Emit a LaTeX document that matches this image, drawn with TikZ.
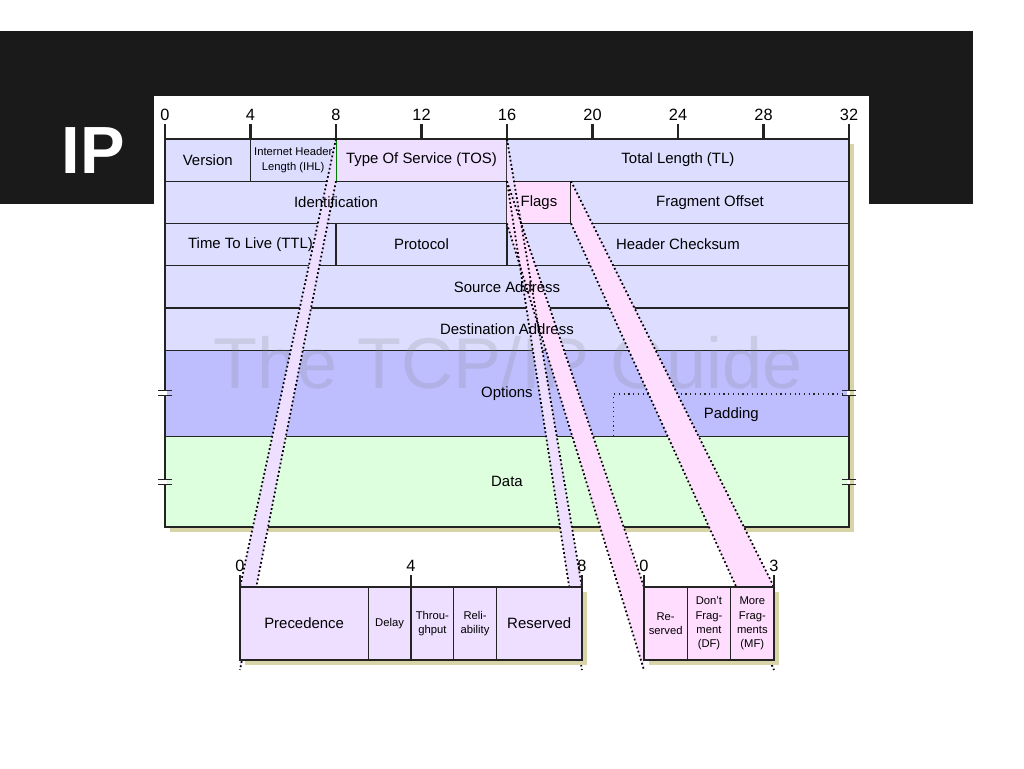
\documentclass[tikz,border=0pt]{standalone}
\usepackage{fontspec}
\setmainfont{Liberation Sans}
\usetikzlibrary{positioning, calc, fit}
\definecolor{slidebar}{RGB}{26,26,26}
\definecolor{hdrfill}{RGB}{221,221,255}
\definecolor{tosfill}{RGB}{238,222,255}
\definecolor{flgfill}{RGB}{255,221,255}
\definecolor{optfill}{RGB}{190,190,255}
\definecolor{datfill}{RGB}{222,255,222}
\definecolor{shadecol}{RGB}{216,212,168}
\definecolor{linecol}{RGB}{35,35,35}
\pgfdeclarelayer{cells}
\pgfdeclarelayer{bands}
\pgfdeclarelayer{boxes}
\pgfsetlayers{cells,bands,boxes,main}
\tikzset{
  cell/.style     = {inner sep=0pt, outer sep=0pt, align=center, minimum height=0.845cm,
                     font=\fontsize{8.5}{10}\selectfont},
  bits/.style     = {minimum width=#1*0.4275cm},
  tbit/.style     = {minimum width=#1*0.855cm, minimum height=1.46cm},
  fbit/.style     = {minimum width=#1*0.8667cm, minimum height=1.46cm},
  small/.style    = {font=\fontsize{6.4}{8.2}\selectfont},
  cellline/.style = {draw=linecol, line width=0.7pt},
  outer/.style    = {draw=linecol, line width=1.2pt},
  tick/.style     = {draw=linecol, line width=1.2pt},
  num/.style      = {font=\fontsize{9.3}{10}\selectfont, inner sep=0pt},
  band/.style     = {draw=black, dash pattern=on 1pt off 1.4pt, line width=1pt},
}
\begin{document}
\begin{tikzpicture}[x=0.02cm, y=-0.02cm]
  \useasboundingbox (0,0) rectangle (1024,768);
  \begin{pgfonlayer}{cells}
    \fill[white] (0,0) rectangle (1024,768);
    \fill[slidebar] (0,31) rectangle (973,204);
    \fill[white] (154,96) rectangle (869,700);
  \end{pgfonlayer}
  \node[font=\fontsize{38}{40}\selectfont\bfseries, text=white] (ip) at (93,151) {IP};

  % header fields
  \node[cell, bits=4, anchor=north west] (ver) at (165,139) {Version};
  \node[cell, small, bits=4, right=0pt of ver] (ihl) {Internet Header\\Length (IHL)};
  \node[cell, bits=8, right=0pt of ihl] (tos) {Type Of Service (TOS)};
  \node[cell, bits=16, right=0pt of tos] (tl) {Total Length (TL)};
  \node[cell, bits=16, anchor=north west] (ident) at (ver.south west) {Identification};
  \node[cell, bits=3, right=0pt of ident] (flags) {Flags};
  \node[cell, bits=13, right=0pt of flags] (fragoff) {Fragment Offset};
  \node[cell, bits=8, anchor=north west] (ttl) at (ident.south west) {Time To Live (TTL)};
  \node[cell, bits=8, right=0pt of ttl] (proto) {Protocol};
  \node[cell, bits=16, right=0pt of proto] (hcs) {Header Checksum};
  \node[cell, bits=32, anchor=north west] (src) at (ttl.south west) {Source Address};
  \node[cell, bits=32, anchor=north west] (dst) at (src.south west) {Destination Address};
  \node[cell, bits=32, minimum height=1.72cm, anchor=north west] (opt) at (dst.south west) {Options};
  \node[cell, bits=32, minimum height=1.82cm, anchor=north west] (data) at (opt.south west) {Data};
  \node[cell, bits=11, anchor=south east] (pad) at (opt.south east) {Padding};

  \begin{pgfonlayer}{cells}
    \fill[shadecol] ($(ver.north west)+(5,5)$) rectangle ($(data.south east)+(5,5)$);
    \foreach \n/\c in {ver/hdrfill, ihl/hdrfill, tos/tosfill, tl/hdrfill,
        ident/hdrfill, flags/flgfill, fragoff/hdrfill, ttl/hdrfill,
        proto/hdrfill, hcs/hdrfill, src/hdrfill, dst/hdrfill,
        opt/optfill, data/datfill}
      \filldraw[cellline, fill=\c] (\n.north west) rectangle (\n.south east);
    \draw[cellline, dotted] (pad.south west) -- (pad.north west) -- (pad.north east);
    \draw[green!50!black, line width=0.7pt] (tos.north west) -- (tos.south west);
    \draw[outer] (ver.north west) rectangle (data.south east);
    \node[font=\fontsize{41}{41}\selectfont, text=gray, opacity=0.2, inner sep=0pt]
      (wm) at (508,363) {The TCP/IP Guide};
  \end{pgfonlayer}

  \foreach \b in {0,4,...,32}
    \draw[tick] ($(ver.north west)+(\b*21.375,0)$) -- +(0,-15)
      node[num, above=1.5pt] (n\b) {\b};

  % breaks in the variable length part
  \foreach \p in {opt.west, opt.east, data.west, data.east} {
    \fill[white] ($(\p)+(-1.5,-2.5)$) rectangle ($(\p)+(1.5,2.5)$);
    \draw[cellline] ($(\p)+(-7,-2.5)$) -- +(14,0);
    \draw[cellline] ($(\p)+(-7,2.5)$) -- +(14,0);
  }

  % TOS subfields
  \node[cell, tbit=3, anchor=north west] (prec) at (240,587) {Precedence};
  \node[cell, small, tbit=1, right=0pt of prec] (delay) {Delay};
  \node[cell, small, tbit=1, right=0pt of delay] (thru) {Throu-\\ghput};
  \node[cell, small, tbit=1, right=0pt of thru] (rel) {Reli-\\ability};
  \node[cell, tbit=2, right=0pt of rel] (resv) {Reserved};
  \node[fit=(prec)(resv), inner sep=0pt, outer sep=0pt] (tosx) {};
  % flag bits
  \node[cell, small, fbit=1, anchor=north west] (fres) at (644,587) {Re-\\served};
  \node[cell, small, fbit=1, right=0pt of fres] (df) {Don't\\Frag-\\ment\\(DF)};
  \node[cell, small, fbit=1, right=0pt of df] (mf) {More\\Frag-\\ments\\(MF)};
  \node[fit=(fres)(mf), inner sep=0pt, outer sep=0pt] (flgx) {};

  \begin{pgfonlayer}{boxes}
    \foreach \bx in {tosx, flgx}
      \fill[shadecol] ($(\bx.north west)+(5,5)$) rectangle ($(\bx.south east)+(5,5)$);
    \foreach \n/\c in {prec/tosfill, delay/tosfill, thru/tosfill, rel/tosfill,
        resv/tosfill, fres/flgfill, df/flgfill, mf/flgfill}
      \filldraw[cellline, fill=\c] (\n.north west) rectangle (\n.south east);
    \draw[outer] (tosx.north west) rectangle (tosx.south east);
    \draw[outer] (flgx.north west) rectangle (flgx.south east);
  \end{pgfonlayer}

  \foreach \b in {0,4,8}
    \draw[tick] ($(tosx.north west)+(\b*42.75,0)$) -- +(0,-12)
      node[num, above=1.5pt] (m\b) {\b};
  \foreach \b in {0,3}
    \draw[tick] ($(flgx.north west)+(\b*43.33,0)$) -- +(0,-12)
      node[num, above=1.5pt] (f\b) {\b};

  % expansion bands
  \begin{pgfonlayer}{bands}
    \foreach \f/\bx/\s/\c in {tos/tosx/west/tosfill, tos/tosx/east/tosfill,
        flags/flgx/west/flgfill, flags/flgx/east/flgfill}
      \fill[\c] (\f.north \s) -- (\bx.north \s) -- ($(\bx.south \s)+(0,10)$)
        -- (\f.south \s) -- cycle;
    \foreach \f/\bx/\s in {tos/tosx/west, tos/tosx/east, flags/flgx/west, flags/flgx/east} {
      \draw[band] (\f.north \s) -- (\bx.north \s);
      \draw[band] (\f.south \s) -- ($(\bx.south \s)+(0,10)$);
    }
  \end{pgfonlayer}
\end{tikzpicture}
\end{document}
